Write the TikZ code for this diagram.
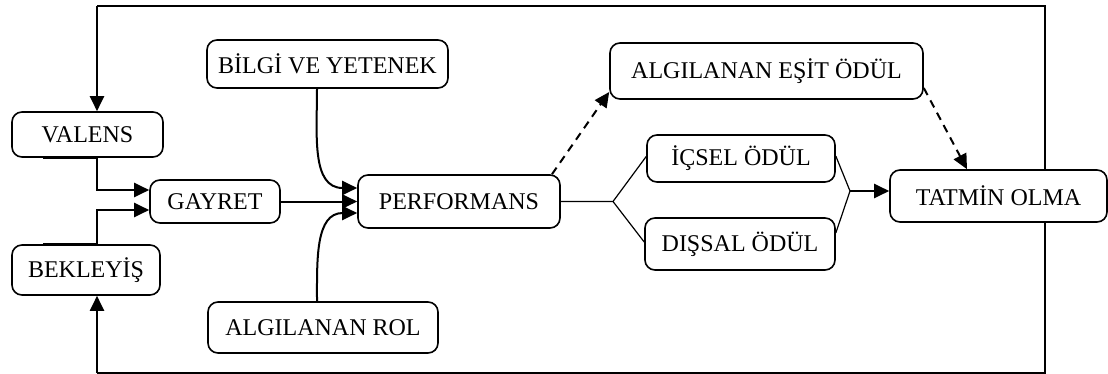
\documentclass[tikz,border=0pt]{standalone}
\usepackage{fontspec}
\setmainfont{Liberation Serif}
\usetikzlibrary{arrows.meta}
\begin{document}
\begin{tikzpicture}[x=0.5pt,y=-0.5pt,
  box/.style={draw, line width=0.8pt, rounded corners=5pt, inner sep=0pt,
    font=\fontsize{12}{14}\selectfont},
  arr/.style={line width=1pt, -{Triangle[length=7.5pt,width=7pt]}},
  dasharr/.style={arr, dash pattern=on 4pt off 3pt},
  thin/.style={line width=0.6pt},
  loopline/.style={line width=0.8pt}]
\useasboundingbox (0,0) rectangle (1108,374);

% boxes
\node[box, minimum width=75.5pt, minimum height=22.5pt] (val) at (87.5,134.5) {VALENS};
\node[box, minimum width=65pt, minimum height=21.5pt] (gay) at (215,201.5) {GAYRET};
\node[box, minimum width=74pt, minimum height=25pt] (bek) at (86,270) {BEKLEYİŞ};
\node[box, minimum width=120.5pt, minimum height=24pt] (bil) at (327.5,64) {BİLGİ VE YETENEK};
\node[box, minimum width=115pt, minimum height=25.5pt] (rol) at (323,327.5) {ALGILANAN ROL};
\node[box, minimum width=101pt, minimum height=26.5pt] (per) at (459,201.5) {PERFORMANS};
\node[box, minimum width=156.5pt, minimum height=28pt] (esi) at (766.5,71) {ALGILANAN EŞİT ÖDÜL};
\node[box, minimum width=94pt, minimum height=23.5pt] (ics) at (741,158.5) {İÇSEL ÖDÜL};
\node[box, minimum width=95pt, minimum height=26pt] (dis) at (740,244) {DIŞSAL ÖDÜL};
\node[box, minimum width=108.5pt, minimum height=26pt] (tat) at (998.5,196) {TATMİN OLMA};

% corners of the feedback loop
\coordinate (tr) at (1045,6);
\coordinate (tl) at (97,6);
\coordinate (br) at (1045,373);
\coordinate (bl) at (97,373);

% feedback loop from satisfaction back to valence and expectancy
\draw[loopline] (tat.north -| tr) -- (tr) -- (tl);
\draw[arr] (tl) -- (val.north -| tl);
\draw[loopline] (tat.south -| tr) -- (br) -- (bl);
\draw[arr] (bl) -- (bek.south -| bl);

% valence and expectancy into effort
\draw[arr] ([xshift=-22.25pt]val.south) -- (val.south -| tl) |- ([yshift=5.75pt]gay.west);
\draw[arr] ([xshift=-21.5pt]bek.north) -- (bek.north -| tl) |- ([yshift=-4.25pt]gay.west);

% into performance
\draw[arr] (gay.east) -- (per.west);
\draw[arr] ([xshift=-5.25pt]bil.south) to[out=270,in=180,looseness=1.1] ([yshift=6.75pt]per.west);
\draw[arr] ([xshift=-3pt]rol.north) to[out=90,in=180,looseness=1.1] ([yshift=-5.75pt]per.west);

% perceived equitable reward
\draw[dasharr] ([xshift=46.5pt]per.north) -- ([yshift=-10.5pt]esi.west);
\draw[dasharr] ([yshift=-8.5pt]esi.east) -- ([xshift=-15.75pt]tat.north);

% intrinsic and extrinsic rewards
\coordinate (fork) at (613,201.5);
\draw[thin] (per.east) -- (fork) -- ([yshift=1pt]ics.west);
\draw[thin] (fork) -- ([yshift=1pt]dis.west);
\coordinate (join) at (850,191);
\draw[thin] ([yshift=1.25pt]ics.east) -- (join) -- ([yshift=5.5pt]dis.east);
\draw[arr] (join) -- (join -| tat.west);
\end{tikzpicture}
\end{document}
